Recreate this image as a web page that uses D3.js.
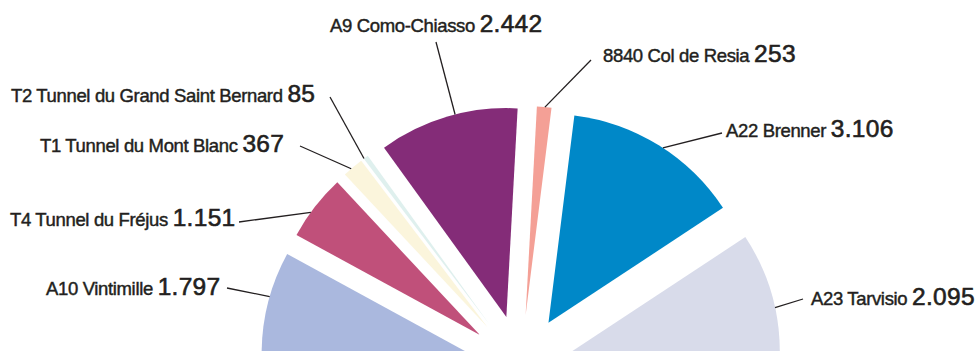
<!DOCTYPE html>
<html>
<head>
<meta charset="utf-8">
<script src="https://cdn.jsdelivr.net/npm/d3@7"></script>
<style>
  body { margin: 0; background: #fff; }
  svg { display: block; }
  .name { font-family: "Liberation Sans", Arial, sans-serif; font-size: 18.5px; letter-spacing: -0.35px;
          fill: #231f20; stroke: #231f20; stroke-width: 0.45px; }
  .value { font-size: 24.5px; letter-spacing: 0.3px; stroke-width: 0.6px; }
  .leader { stroke: #231f20; stroke-width: 1.3; fill: none; }
</style>
</head>
<body>
<div id="chart"></div>
<script>
// --- Data (left to right around the half pie)
const names = [
  "A10 Vintimille", "T4 Tunnel du Fréjus", "T1 Tunnel du Mont Blanc",
  "T2 Tunnel du Grand Saint Bernard", "A9 Como-Chiasso", "8840 Col de Resia",
  "A22 Brenner", "A23 Tarvisio"
];
const values = [1797, 1151, 367, 85, 2442, 253, 3106, 2095];
const valueLabels = ["1.797", "1.151", "367", "85", "2.442", "253", "3.106", "2.095"];
const colors = ["#aab8de", "#c0507a", "#fbf5dc", "#dff0ee", "#842c78", "#f4a096", "#0088c8", "#d8dbea"];

// --- Label layout: text position, leader end near text, leader angle on the slice (deg)
const labelLayout = [
  { x: 46,  y: 295, lx: 227, ly: 288, angle: -74 },
  { x: 10,  y: 226, lx: 239, ly: 222, angle: -54 },
  { x: 40,  y: 152, lx: 300, ly: 146, angle: -40.7 },
  { x: 11,  y: 102, lx: 330, ly: 97,  angle: -37.1 },
  { x: 330, y: 32,  lx: 436, ly: 42,  angle: -14.2 },
  { x: 603, y: 62,  lx: 591, ly: 60,  angle: 5.3 },
  { x: 726, y: 137, lx: 722, ly: 133, angle: 33.2 },
  { x: 811, y: 305, lx: 803, ly: 299, angle: 77.7 }
];

const width = 978, height = 351;
const cx = 521, cy = 367;
const radius = 209;
const explode = 52;

const svg = d3.select("#chart")
  .append("svg")
  .attr("width", width)
  .attr("height", height)
  .attr("viewBox", [0, 0, width, height]);

const pie = d3.pie()
  .sort(null)
  .startAngle(-Math.PI / 2)
  .endAngle(Math.PI / 2);

const arc = d3.arc()
  .innerRadius(0)
  .outerRadius(radius);

const arcs = pie(values);

// offset of each slice along its bisector
const shift = d => {
  const a = (d.startAngle + d.endAngle) / 2;
  return [Math.sin(a) * explode, -Math.cos(a) * explode];
};

const g = svg.append("g")
  .attr("transform", `translate(${cx},${cy})`);

g.selectAll("path")
  .data(arcs)
  .join("path")
  .attr("transform", d => `translate(${shift(d)})`)
  .attr("d", arc)
  .attr("fill", (d, i) => colors[i]);

// leader lines
svg.append("g")
  .selectAll("line")
  .data(arcs)
  .join("line")
  .attr("class", "leader")
  .attr("x1", (d, i) => labelLayout[i].lx)
  .attr("y1", (d, i) => labelLayout[i].ly)
  .attr("x2", (d, i) => {
    const a = labelLayout[i].angle * Math.PI / 180;
    return cx + shift(d)[0] + Math.sin(a) * radius;
  })
  .attr("y2", (d, i) => {
    const a = labelLayout[i].angle * Math.PI / 180;
    return cy + shift(d)[1] - Math.cos(a) * radius;
  });

// labels
const labels = svg.append("g")
  .selectAll("text")
  .data(arcs)
  .join("text")
  .attr("class", "name")
  .attr("x", (d, i) => labelLayout[i].x)
  .attr("y", (d, i) => labelLayout[i].y);

labels.append("tspan")
  .text((d, i) => names[i] + " ");

labels.append("tspan")
  .attr("class", "value")
  .text((d, i) => valueLabels[i]);
</script>
</body>
</html>
